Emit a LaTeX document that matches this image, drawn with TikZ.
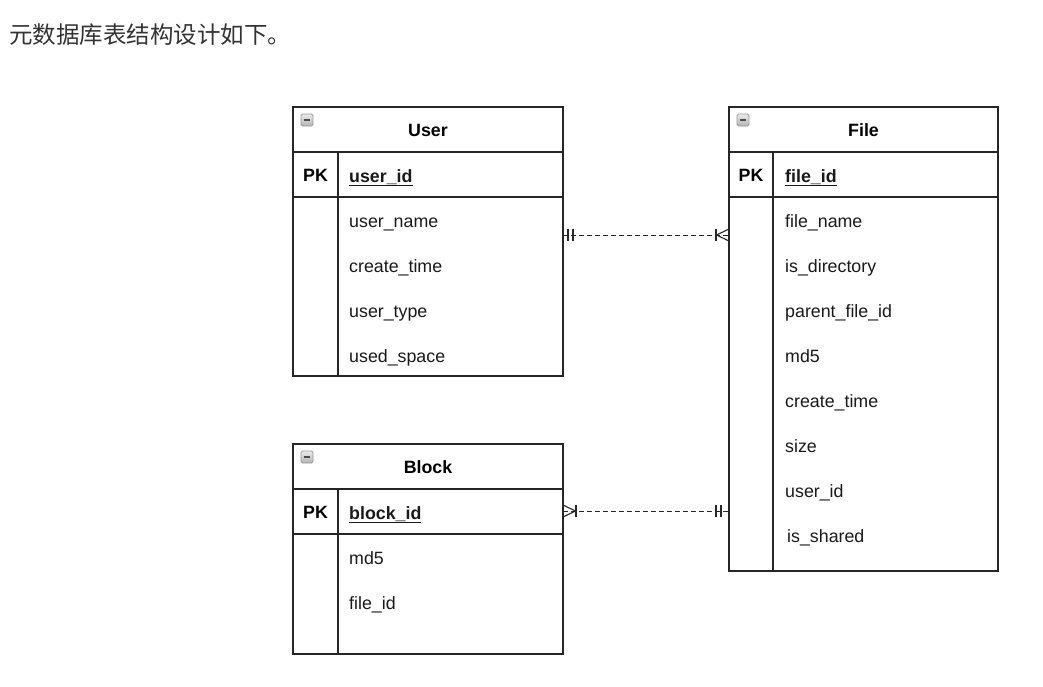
\documentclass[tikz,border=0pt]{standalone}
\usepackage{fontspec}
\setmainfont{Liberation Sans}
\newfontfamily\cjk{Noto Sans CJK SC}
\newcommand{\fldfont}{\fontsize{17.8}{20}\selectfont}
\begin{document}
\begin{tikzpicture}[x=1pt,y=-1pt,
  frame/.style={draw=black!85, line width=1.3pt, inner sep=0pt, outer sep=0pt},
  rule/.style={draw=black!85, line width=1.3pt},
  fld/.style={anchor=base west, inner sep=0pt, font=\fldfont, text=black!90},
  hdr/.style={inner sep=0pt, font=\fldfont\bfseries, text=black},
  icon/.style={draw=black!40, line width=0.8pt, top color=black!8, bottom color=black!30, rounded corners=1.5pt},
  minus/.style={draw=black!70, line width=2.2pt},
  conn/.style={draw=black!85, line width=1pt, dash pattern=on 4.5pt off 3.5pt},
  endmark/.style={draw=black!85, line width=1.1pt}]
\useasboundingbox (0,0) rectangle (1043,686);

\node[anchor=west, inner sep=0pt, font=\cjk\fontsize{23.5}{27}\selectfont, text=black!80] (title) at (9,35) {元数据库表结构设计如下。};

% ---------- User ----------
\node[frame, minimum width=270pt, minimum height=269pt] (user) at (428,241.5) {};
\draw[rule] (293,152) -- (563,152);
\draw[rule] (293,197) -- (563,197);
\draw[rule] (338,152) -- (338,376);
\draw[icon] (301,114) rectangle (313,126);
\draw[minus] (303.8,120) -- (310.2,120);
\node[hdr] (userh) at (428,130) {User};
\node[hdr] (userpk) at (315.5,175) {PK};
\node[fld, font=\fldfont\bfseries] (uid) at (349,182) {\underline{user\_id}};
\node[fld] (u1) at (349,227) {user\_name};
\node[fld] (u2) at (349,272) {create\_time};
\node[fld] (u3) at (349,317) {user\_type};
\node[fld] (u4) at (349,362) {used\_space};

% ---------- File ----------
\node[frame, minimum width=269pt, minimum height=464pt] (file) at (863.5,339) {};
\draw[rule] (729,152) -- (998,152);
\draw[rule] (729,197) -- (998,197);
\draw[rule] (773,152) -- (773,571);
\draw[icon] (737,114) rectangle (749,126);
\draw[minus] (739.8,120) -- (746.2,120);
\node[hdr] (fileh) at (863.5,130) {File};
\node[hdr] (filepk) at (751,175) {PK};
\node[fld, font=\fldfont\bfseries] (fid) at (785,182) {\underline{file\_id}};
\node[fld] (f1) at (785,227) {file\_name};
\node[fld] (f2) at (785,272) {is\_directory};
\node[fld] (f3) at (785,317) {parent\_file\_id};
\node[fld] (f4) at (785,362) {md5};
\node[fld] (f5) at (785,407) {create\_time};
\node[fld] (f6) at (785,452) {size};
\node[fld] (f7) at (785,497) {user\_id};
\node[fld] (f8) at (787,542) {is\_shared};

% ---------- Block ----------
\node[frame, minimum width=270pt, minimum height=210pt] (block) at (428,549) {};
\draw[rule] (293,489) -- (563,489);
\draw[rule] (293,534) -- (563,534);
\draw[rule] (338,489) -- (338,654);
\draw[icon] (301,451) rectangle (313,463);
\draw[minus] (303.8,457) -- (310.2,457);
\node[hdr] (blockh) at (428,467) {Block};
\node[hdr] (blockpk) at (315.5,512) {PK};
\node[fld, font=\fldfont\bfseries] (bid) at (349,519) {\underline{block\_id}};
\node[fld] (b1) at (349,564) {md5};
\node[fld] (b2) at (349,609) {file\_id};

% ---------- connectors ----------
\coordinate (r1) at (0,235);
\coordinate (r2) at (0,511);
\draw[conn] (user.east |- r1) -- (file.west |- r1);
\draw[endmark] (568,229) -- (568,241);
\draw[endmark] (573,229) -- (573,241);
\draw[endmark] (716,229) -- (716,241);
\draw[endmark] (729,229) -- (716.5,235) -- (729,241);

\draw[conn] (block.east |- r2) -- (file.west |- r2);
\draw[endmark] (563,505) -- (575.5,511) -- (563,517);
\draw[endmark] (576,505) -- (576,517);
\draw[endmark] (716,505) -- (716,517);
\draw[endmark] (721,505) -- (721,517);
\end{tikzpicture}
\end{document}
